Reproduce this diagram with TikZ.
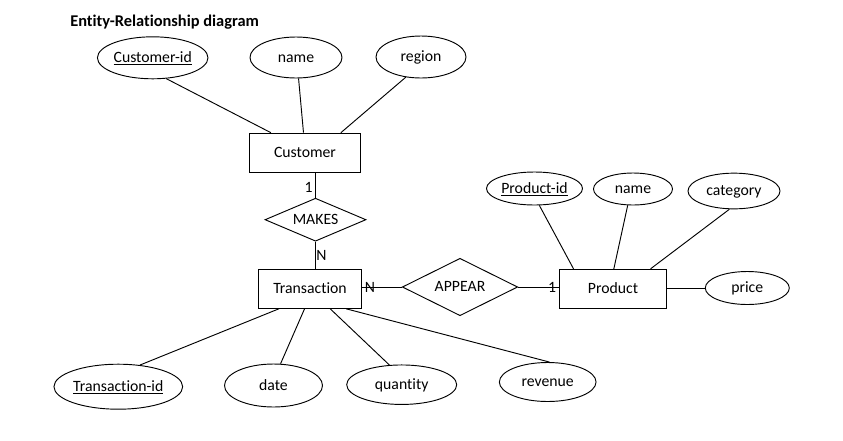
\documentclass[tikz,border=0pt]{standalone}
\usepackage{fontspec}
\setmainfont{Carlito}[Ligatures=NoCommon]
\usetikzlibrary{shapes.geometric,calc}
\begin{document}
\begin{tikzpicture}[x=0.75pt,y=-0.75pt,
  every node/.style={font=\fontsize{11.8pt}{14pt}\selectfont},
  lbl/.style={text height=0.8em,text depth=0.1em},
  ent/.style={draw,rectangle,inner sep=0pt,line width=0.7pt,lbl},
  attr/.style={draw,ellipse,inner sep=0pt,line width=0.7pt,lbl},
  rel/.style={draw,diamond,inner sep=0pt,line width=0.7pt,lbl},
  conn/.style={line width=0.7pt},
  card/.style={inner sep=0pt}]
\useasboundingbox (0,0) rectangle (843,440);
\node[anchor=base west,inner sep=0pt,font=\fontsize{12.3pt}{14pt}\selectfont\bfseries] (title) at (70,26) {Entity-Relationship diagram};
% Customer
\node[ent,minimum width=110.7*0.75pt,minimum height=39.7*0.75pt] (cust) at (305,153) {Customer\hspace{0.6em}};
\node[attr,minimum width=110*0.75pt,minimum height=42*0.75pt] (cid) at (152.7,57.8) {\underline{Customer-id}};
\node[attr,minimum width=92*0.75pt,minimum height=41*0.75pt] (cname) at (296,57.5) {name};
\node[attr,minimum width=90*0.75pt,minimum height=42*0.75pt] (creg) at (421,57) {region};
\draw[conn] ($(cust.north west)+(21.7,0)$) -- (cid.-57);
\draw[conn] ($(cust.north west)+(54.3,0)$) -- (cname.-83.6);
\draw[conn] ($(cust.north west)+(91.7,0)$) -- (creg.-127.7);
% MAKES
\node[rel,aspect=2.35,minimum width=101*0.75pt,minimum height=43*0.75pt] (makes) at (315.5,219.7) {MAKES};
% Transaction
\node[ent,minimum width=103.4*0.75pt,minimum height=39.3*0.75pt] (trans) at (310,288.7) {Transaction};
\draw[conn] (makes.north |- cust.south) -- (makes.north);
\draw[conn] (makes.south) -- (makes.south |- trans.north);
\node[card] (c1) at (308.5,187) {1};
\node[card] (cN) at (321.5,255) {N};
% Transaction attributes
\node[attr,minimum width=128.7*0.75pt,minimum height=45*0.75pt] (tid) at (118.3,386.7) {\underline{Transaction-id}};
\node[attr,minimum width=98*0.75pt,minimum height=43*0.75pt] (tdate) at (273.5,385.5) {date};
\node[attr,minimum width=110*0.75pt,minimum height=39.5*0.75pt] (tqty) at (401.7,384.7) {quantity};
\node[attr,minimum width=96.7*0.75pt,minimum height=39*0.75pt] (trev) at (547.7,382) {revenue};
\draw[conn] ($(trans.south west)+(21,0)$) -- (tid.45.4);
\draw[conn] ($(trans.south west)+(46.7,0)$) -- (tdate.72.4);
\draw[conn] ($(trans.south west)+(72.4,0)$) -- (tqty.122.6);
\draw[conn] ($(trans.south west)+(88.4,0)$) -- (trev.85);
% APPEAR
\node[rel,aspect=2,minimum width=115.4*0.75pt,minimum height=57.4*0.75pt] (appear) at (460,287) {APPEAR};
% Product
\node[ent,minimum width=107.4*0.75pt,minimum height=39*0.75pt] (prod) at (613,288.8) {Product};
\draw[conn] (appear.west -| trans.east) -- (appear.west);
\draw[conn] (appear.east) -- (appear.east -| prod.west);
\node[card] (aN) at (370,287) {N};
\node[card] (a1) at (552,287) {1};
% Product attributes
\node[attr,minimum width=96*0.75pt,minimum height=33*0.75pt] (pid) at (534.5,188.5) {\underline{Product-id}};
\node[attr,minimum width=79*0.75pt,minimum height=32*0.75pt] (pname) at (633,189) {name};
\node[attr,minimum width=92*0.75pt,minimum height=35.7*0.75pt] (pcat) at (734,191) {category};
\node[attr,minimum width=84*0.75pt,minimum height=33*0.75pt] (pprice) at (747.3,288) {price};
\draw[conn] ($(prod.north west)+(14.7,0)$) -- (pid.-74.4);
\draw[conn] ($(prod.north west)+(55,0)$) -- (pname.-108.3);
\draw[conn] ($(prod.north west)+(91.7,0)$) -- (pcat.-104.4);
\draw[conn] (pprice.west -| prod.east) -- (pprice.west);
\end{tikzpicture}
\end{document}
